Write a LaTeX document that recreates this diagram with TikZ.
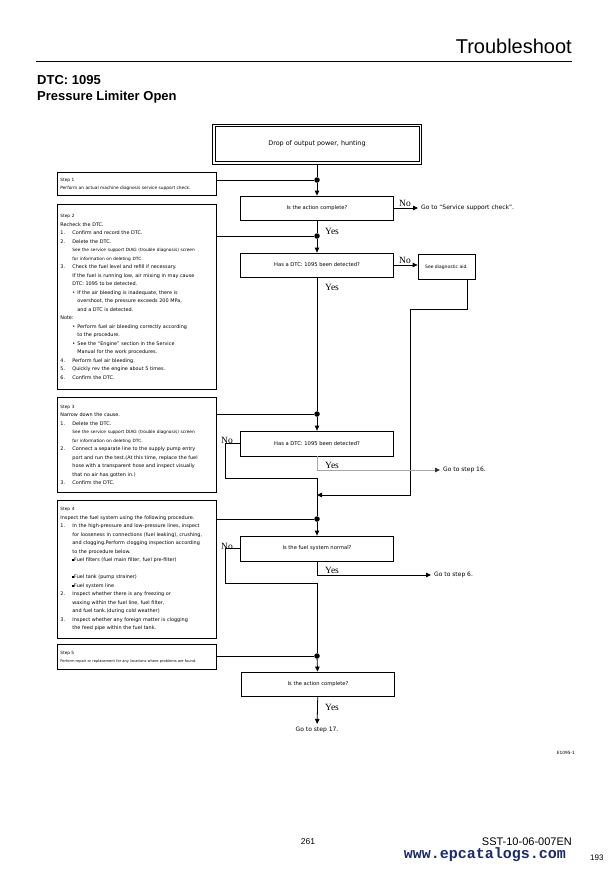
\documentclass[tikz,border=0pt]{standalone}
\usepackage{fontspec}
\setmainfont{Liberation Sans}
\newfontfamily\gothfont{DejaVu Sans}
\newfontfamily\yesfont{Liberation Serif}
\newfontfamily\urlfont{Liberation Mono}
\usetikzlibrary{arrows.meta}

\definecolor{urlblue}{HTML}{1B2A6B}

\newcommand{\itm}[2]{\makebox[12pt][l]{#1}#2}
\newcommand{\ind}{\hspace*{12pt}}
\newcommand{\bul}{\makebox[5pt][l]{•}}
\newcommand{\sqb}{\raisebox{0.9pt}{\rule{1.8pt}{1.8pt}}}
\newcommand{\sml}[1]{{\fontsize{4.3}{8.5}\selectfont #1}}

\begin{document}
\begin{tikzpicture}[x=1pt, y=-1pt, >={Triangle[length=5pt,width=4.5pt]},
    box/.style={draw, line width=0.8pt, minimum width=153pt, minimum height=24pt,
                font=\gothfont\fontsize{5.2}{6}\selectfont},
    stepbox/.style={draw, line width=0.8pt, anchor=north west, minimum width=159pt,
                text width=153pt, inner xsep=3pt, inner ysep=3pt, align=left,
                font=\gothfont\fontsize{4.9}{8.5}\selectfont},
    lbl/.style={font=\yesfont\fontsize{9.5}{10}\selectfont, inner sep=0pt},
    goto/.style={font=\gothfont\fontsize{6}{7}\selectfont, inner sep=3pt},
    flow/.style={line width=0.8pt},
    dot/.style={circle, fill, inner sep=0pt, minimum size=5.5pt}]

    \fill[white] (0,0) rectangle (612,870);
    \useasboundingbox (0,0) rectangle (612,870);

    % ==================== page head ====================
    \node[anchor=base east, inner sep=0pt, font=\fontsize{20}{24}\selectfont] (Title) at (572,53) {Troubleshoot};
    \draw[line width=0.9pt] (36,61) -- (572,61);
    \node[anchor=base west, inner sep=0pt, font=\bfseries\fontsize{13}{15}\selectfont] (DTC) at (37,84) {DTC: 1095};
    \node[anchor=base west, inner sep=0pt, font=\bfseries\fontsize{13}{15}\selectfont] (Name) at (37,100) {Pressure Limiter Open};

    % ==================== main column ====================
    \node[draw, line width=0.8pt, minimum width=209pt, minimum height=40pt,
          font=\gothfont\fontsize{6.4}{7}\selectfont] (Top) at (317,144) {Drop of output power, hunting};
    \draw[line width=0.8pt] ([shift={(2.8pt,-2.8pt)}]Top.north west) rectangle ([shift={(-2.8pt,2.8pt)}]Top.south east);

    \node[box] (Q1) at (317,208) {Is the action complete?};
    \node[box] (Q2) at (317,265) {Has a DTC: 1095 been detected?};
    \node[box, minimum height=25pt] (Q3) at (317,443.5) {Has a DTC: 1095 been detected?};
    \node[box, minimum height=25pt] (Q4) at (317,548.5) {Is the fuel system normal?};
    \node[box] (Q5) at (318,684) {Is the action complete?};

    % joints on the main line
    \node[dot] (D1) at (317,180) {};
    \node[dot] (D2) at (317,236) {};
    \node[dot] (D3) at (317,414) {};
    \node[dot] (D4) at (317,519) {};
    \node[dot] (D5) at (317,656) {};
    \coordinate (M3) at (317,478);
    \coordinate (M4) at (317,583);
    \coordinate (R1) at (317,495);
    \coordinate (J1) at (410,309);

    % ==================== step boxes ====================
    \node[stepbox, minimum height=23pt, font=\gothfont\fontsize{4.3}{8}\selectfont] (S1) at (57,172) {%
        Step 1\\
        Perform an actual machine diagnosis service support check.};

    \node[stepbox, minimum height=185pt] (S2) at (57,204) {%
        \sml{Step 2}\\
        Recheck the DTC.\\
        \itm{1.}{Confirm and record the DTC.}\\
        \itm{2.}{Delete the DTC.}\\
        \ind\sml{See the service support DIAG (trouble diagnosis) screen}\\
        \ind\sml{for information on deleting DTC.}\\
        \itm{3.}{Check the fuel level and refill if necessary.}\\
        \ind If the fuel is running low, air mixing in may cause\\
        \ind DTC: 1095 to be detected.\\
        \ind\bul If the air bleeding is inadequate, there is\\
        \ind\hspace*{5pt}overshoot, the pressure exceeds 200 MPa,\\
        \ind\hspace*{5pt}and a DTC is detected.\\
        Note:\\
        \ind\bul Perform fuel air bleeding correctly according\\
        \ind\hspace*{5pt}to the procedure.\\
        \ind\bul See the “Engine” section in the Service\\
        \ind\hspace*{5pt}Manual for the work procedures.\\
        \itm{4.}{Perform fuel air bleeding.}\\
        \itm{5.}{Quickly rev the engine about 5 times.}\\
        \itm{6.}{Confirm the DTC.}};

    \node[stepbox, minimum height=95pt] (S3) at (57,397) {%
        \sml{Step 3}\\
        Narrow down the cause.\\
        \itm{1.}{Delete the DTC.}\\
        \ind\sml{See the service support DIAG (trouble diagnosis) screen}\\
        \ind\sml{for information on deleting DTC.}\\
        \itm{2.}{Connect a separate line to the supply pump entry}\\
        \ind port and run the test.(At this time, replace the fuel\\
        \ind hose with a transparent hose and inspect visually\\
        \ind that no air has gotten in.)\\
        \itm{3.}{Confirm the DTC.}};

    \node[stepbox, minimum height=138pt] (S4) at (57,500) {%
        \sml{Step 4}\\
        Inspect the fuel system using the following procedure.\\
        \itm{1.}{In the high-pressure and low-pressure lines, inspect}\\
        \ind for looseness in connections (fuel leaking), crushing,\\
        \ind and clogging.Perform clogging inspection according\\
        \ind to the procedure below.\\
        \ind\sqb Fuel filters (fuel main filter, fuel pre-filter)\\[8.5pt]
        \ind\sqb Fuel tank (pump strainer)\\
        \ind\sqb Fuel system line\\
        \itm{2.}{Inspect whether there is any freezing or}\\
        \ind waxing within the fuel line, fuel filter,\\
        \ind and fuel tank.(during cold weather)\\
        \itm{3.}{Inspect whether any foreign matter is clogging}\\
        \ind the feed pipe within the fuel tank.};

    \node[stepbox, minimum height=25pt, font=\gothfont\fontsize{3.6}{8}\selectfont] (S5) at (57,644) {%
        {\fontsize{4.3}{8}\selectfont Step 5}\\
        Perform repair or replacement for any locations where problems are found.};

    % step boxes into the main line
    \draw[flow] (S1.east |- D1) -- (D1);
    \draw[flow] (S2.east |- D2) -- (D2);
    \draw[flow] (S3.east |- D3) -- (D3);
    \draw[flow] (S4.east |- D4) -- (D4);
    \draw[flow] (S5.east |- D5) -- (D5);

    % ==================== side exits ====================
    \node[goto, anchor=west] (G1) at (418,208) {Go to “Service support check”.};
    \node[draw, line width=0.8pt, minimum width=57pt, minimum height=25pt,
          font=\gothfont\fontsize{4.5}{5}\selectfont] (Aid) at (446.5,267) {See diagnostic aid.};
    \node[goto, anchor=west] (G3) at (440,470) {Go to step 16.};
    \node[goto, anchor=west] (G4) at (431,575) {Go to step 6.};
    \node[goto] (G5) at (317,730) {Go to step 17.};

    % ==================== connectors ====================
    \draw[flow] (Top) -- (D1);
    \draw[flow,->] (D1) -- (Q1);
    \draw[flow] (Q1) -- (D2);
    \draw[flow,->] (D2) -- (Q2);
    \draw[flow] (Q2) -- (D3);
    \draw[flow,->] (D3) -- (Q3);
    \draw[flow] (M3) -- (D4);
    \draw[flow,->] (D4) -- (Q4);
    \draw[flow] (M4) -- (D5);
    \draw[flow,->] (D5) -- (Q5);
    \draw[flow,->] (Q5) -- (G5);

    % no branches
    \draw[flow,->] (Q1.east) -- (G1.west);
    \draw[flow,->] (Q2.east) -- (Q2.east -| Aid.west);
    \draw[flow,->] ([xshift=20.5pt]Aid.south) |- (J1) |- (R1);
    \draw[flow] (Q3.west) -- ++(-15,0) |- (M3);
    \draw[flow] (Q4.west) -- ++(-15,0) |- (M4);

    % yes branches
    \draw[flow, draw=gray!70, -{Triangle[length=5pt,width=4.5pt,color=black!80]}] (Q3.south) |- (G3.west);
    \draw[flow,->] (Q4.south) |- (G4.west);

    % yes / no labels
    \node[lbl] (N1) at (405,203) {No};
    \node[lbl] (N2) at (405,260) {No};
    \node[lbl] (N3) at (227,440) {No};
    \node[lbl] (N4) at (227,546) {No};
    \node[lbl] (Y1) at (332,231) {Yes};
    \node[lbl] (Y2) at (332,287) {Yes};
    \node[lbl] (Y3) at (332,465) {Yes};
    \node[lbl] (Y4) at (332,570) {Yes};
    \node[lbl] (Y5) at (332,707) {Yes};

    % ==================== page foot ====================
    \node[anchor=base east, inner sep=0pt, font=\gothfont\fontsize{4.3}{5}\selectfont] (Fig) at (575,754) {E1095-1};
    \node[anchor=base, inner sep=0pt, font=\fontsize{8.5}{10}\selectfont] (Page) at (308,844) {261};
    \node[anchor=base east, inner sep=0pt, font=\fontsize{11}{12}\selectfont] (Doc) at (572,845) {SST-10-06-007EN};
    \node[anchor=base east, inner sep=0pt, text=urlblue, font=\urlfont\bfseries\fontsize{15}{16}\selectfont] (Url) at (566,858) {www.epcatalogs.com};
    \node[anchor=base west, inner sep=0pt, font=\fontsize{8}{9}\selectfont] (Num) at (590,860) {193};

\end{tikzpicture}
\end{document}
